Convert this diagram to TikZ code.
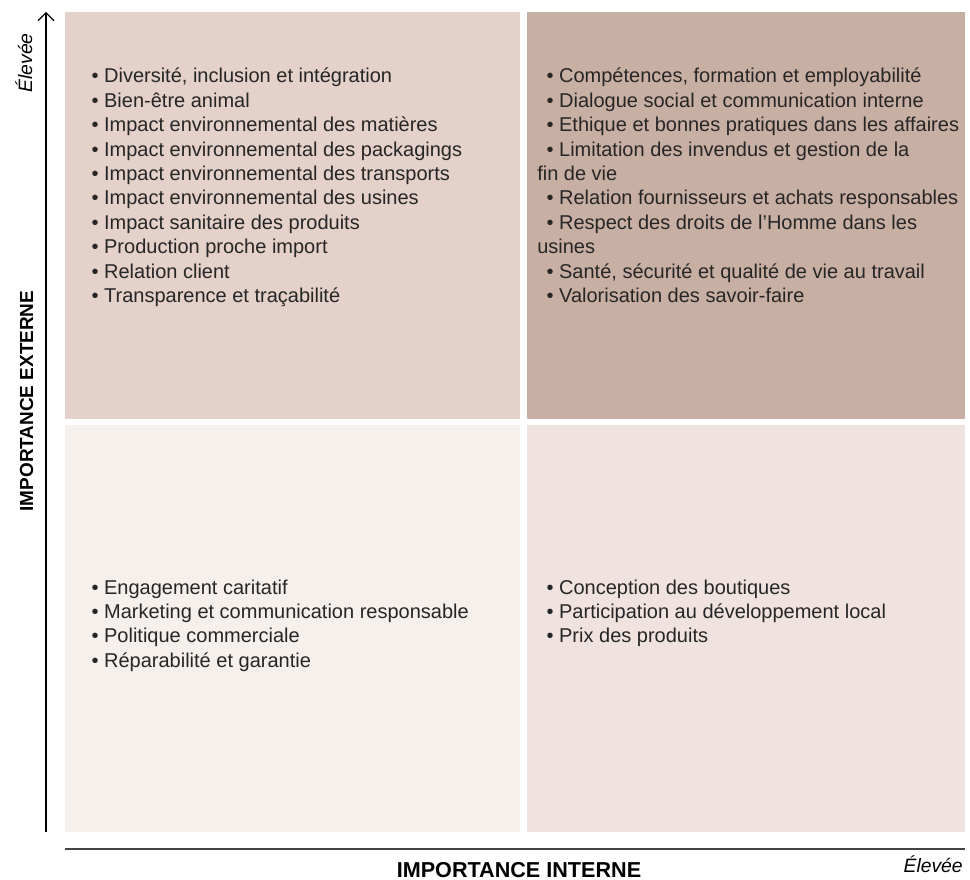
\documentclass[tikz,border=0pt]{standalone}
\usepackage{fontspec}
\setmainfont{Liberation Sans}
\usetikzlibrary{arrows.meta}

\definecolor{quadHG}{HTML}{E3D1CA}
\definecolor{quadHD}{HTML}{C8AFA4}
\definecolor{quadBG}{HTML}{F5F0EC}
\definecolor{quadBD}{HTML}{F0E3DF}
\definecolor{texte}{HTML}{262626}
\definecolor{trait}{HTML}{444444}

\newcommand\itm{\hspace*{7pt}\textbullet\ }

\begin{document}
\begin{tikzpicture}[x=0.75pt,y=-0.75pt,
    liste/.style={anchor=base west, align=left, inner sep=0pt, text=texte,
      font=\fontsize{15pt}{18.3pt}\selectfont},
    titre/.style={inner sep=0pt, text=black, font=\bfseries\fontsize{#1}{18pt}\selectfont},
    eleve/.style={inner sep=0pt, text=black, font=\itshape\fontsize{14.5pt}{17pt}\selectfont}]
  \useasboundingbox (0,0) rectangle (970,880);

  % les quatre zones
  \fill[quadHG] (65,12) rectangle (520,419);
  \fill[quadHD] (527,12) rectangle (965,419);
  \fill[quadBG] (65,425) rectangle (520,832);
  \fill[quadBD] (527,425) rectangle (965,832);

  % axes
  \coordinate (bas) at (46,832);
  \coordinate (haut) at (46,12);
  \draw[line width=0.8pt, -{Straight Barb[length=6pt,width=12pt]}] (bas) -- (haut);
  \coordinate (gauche) at (65,849);
  \coordinate (droite) at (965,849);
  \draw[trait, line width=1.1pt] (gauche) -- (droite);

  \node[titre=14.2pt, rotate=90, anchor=base] (extern) at (33,401) {IMPORTANCE EXTERNE};
  \node[eleve, rotate=90, anchor=base] (hautlab) at (32,63) {Élevée};
  \node[titre=16.2pt, anchor=base] (intern) at (519,877) {IMPORTANCE INTERNE};
  \node[eleve, anchor=base east] (droitelab) at (963,872) {Élevée};

  % enjeux (ancre = ligne de base de la derniere ligne)
  \node[liste] (hg) at (82,302.6) {%
    \itm Diversité, inclusion et intégration\\
    \itm Bien-être animal\\
    \itm Impact environnemental des matières\\
    \itm Impact environnemental des packagings\\
    \itm Impact environnemental des transports\\
    \itm Impact environnemental des usines\\
    \itm Impact sanitaire des produits\\
    \itm Production proche import\\
    \itm Relation client\\
    \itm Transparence et traçabilité};
  \node[liste] (hd) at (537,302.6) {%
    \itm Compétences, formation et employabilité\\
    \itm Dialogue social et communication interne\\
    \itm Ethique et bonnes pratiques dans les affaires\\
    \itm Limitation des invendus et gestion de la\\
    fin de vie\\
    \itm Relation fournisseurs et achats responsables\\
    \itm Respect des droits de l’Homme dans les\\
    usines\\
    \itm Santé, sécurité et qualité de vie au travail\\
    \itm Valorisation des savoir-faire};
  \node[liste] (bg) at (82,667.2) {%
    \itm Engagement caritatif\\
    \itm Marketing et communication responsable\\
    \itm Politique commerciale\\
    \itm Réparabilité et garantie};
  \node[liste] (bd) at (537,642.8) {%
    \itm Conception des boutiques\\
    \itm Participation au développement local\\
    \itm Prix des produits};
\end{tikzpicture}
\end{document}
